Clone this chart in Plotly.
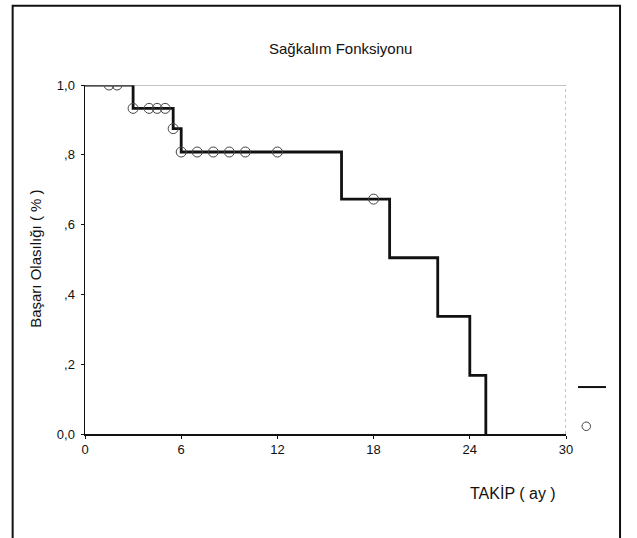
import plotly.graph_objects as go

# ---- data ----
step_time = [0, 3, 5.5, 6, 16, 19, 22, 24, 25]
step_surv = [1.0, 0.933, 0.875, 0.808, 0.673, 0.505, 0.337, 0.168, 0.0]

censor_time = [1.5, 2, 3, 4, 4.5, 5, 5.5, 6, 7, 8, 9, 10, 12, 18]
censor_surv = [1.0, 1.0, 0.933, 0.933, 0.933, 0.933, 0.875, 0.808, 0.808,
               0.808, 0.808, 0.808, 0.808, 0.673]

x_ticks = [0, 6, 12, 18, 24, 30]
y_ticks = [0, 0.2, 0.4, 0.6, 0.8, 1.0]
y_tick_text = ["0,0", ",2", ",4", ",6", ",8", "1,0"]

title_text = "Sağkalım Fonksiyonu"
x_title = "TAKİP ( ay )"
y_title = "Başarı Olasılığı ( % )"

# ---- layout geometry (page pixels) ----
W, H = 637, 538
PL, PR, PT, PB = 85.3, 566.0, 84.7, 434.0


def px(xp):
    return (xp - PL) / (PR - PL)


def py(yp):
    return (PB - yp) / (PB - PT)


FONT = "Liberation Sans, Arial, sans-serif"

fig = go.Figure()
fig.add_trace(go.Scatter(
    x=step_time, y=step_surv, mode="lines", line_shape="hv",
    line=dict(color="#111111", width=2.8), showlegend=False, hoverinfo="skip"))
fig.add_trace(go.Scatter(
    x=censor_time, y=censor_surv, mode="markers",
    marker=dict(symbol="circle-open", size=10, color="#444444",
                line=dict(width=1)),
    showlegend=False, hoverinfo="skip"))

shapes = [
    # outer frame
    dict(type="rect", xref="paper", yref="paper",
         x0=px(13), x1=px(620), y0=py(545), y1=py(5.5),
         line=dict(color="#111111", width=2)),
    # top / right plot border (thin gray)
    dict(type="line", xref="x", yref="y", x0=0, x1=30, y0=1, y1=1,
         line=dict(color="#888888", width=1)),
    dict(type="line", xref="x", yref="y", x0=30, x1=30, y0=0, y1=1,
         line=dict(color="#888888", width=1, dash="dot")),
    # legend line sample
    dict(type="line", xref="paper", yref="paper",
         x0=px(578), x1=px(606), y0=py(387), y1=py(387),
         line=dict(color="#111111", width=2)),
    # legend circle sample
    dict(type="circle", xref="paper", yref="paper",
         x0=px(582), x1=px(590.5), y0=py(430.5), y1=py(422),
         line=dict(color="#444444", width=1)),
]

annotations = [
    dict(text=title_text, xref="paper", yref="paper", x=px(341), y=py(48),
         showarrow=False, font=dict(family=FONT, size=15, color="#111111"),
         xanchor="center", yanchor="middle"),
    dict(text=x_title, xref="paper", yref="paper", x=px(513), y=py(493),
         showarrow=False, font=dict(family=FONT, size=16, color="#111111"),
         xanchor="center", yanchor="middle"),
    dict(text=y_title, xref="paper", yref="paper", x=px(35), y=py(259),
         showarrow=False, textangle=-90,
         font=dict(family=FONT, size=15, color="#111111"),
         xanchor="center", yanchor="middle"),
]

fig.update_layout(
    width=W, height=H,
    margin=dict(l=PL, r=W - PR, t=PT, b=H - PB, pad=0),
    paper_bgcolor="white", plot_bgcolor="white",
    font=dict(family=FONT, size=13, color="#111111"),
    shapes=shapes, annotations=annotations, showlegend=False,
)
fig.update_xaxes(range=[0, 30], tickvals=x_ticks, ticks="outside", ticklen=3,
                 tickcolor="#111111", showline=True, linecolor="#111111",
                 linewidth=1.5, showgrid=False, zeroline=False,
                 tickfont=dict(size=13), fixedrange=True)
fig.update_yaxes(range=[0, 1], tickvals=y_ticks, ticktext=y_tick_text,
                 ticks="outside", ticklen=3, tickcolor="#111111",
                 ticklabelstandoff=3,
                 showline=True, linecolor="#111111", linewidth=1.5,
                 showgrid=False, zeroline=False, tickfont=dict(size=13),
                 fixedrange=True)

fig.write_html("out.html",
               config={"displayModeBar": False, "staticPlot": True},
               post_script="document.body.style.margin='0';"
                           "document.body.style.overflow='hidden';")
